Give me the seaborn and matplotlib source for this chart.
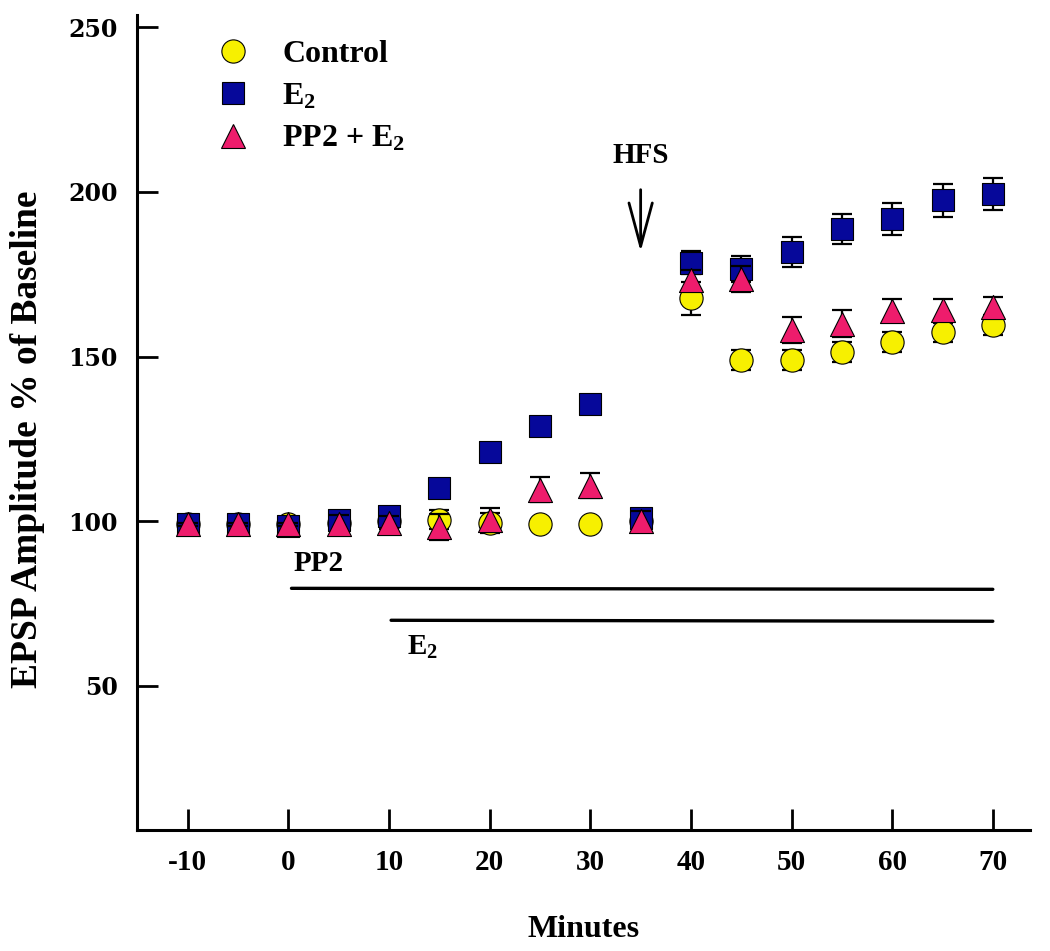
import numpy as np
import pandas as pd
import matplotlib
matplotlib.use("Agg")
import matplotlib.pyplot as plt
from matplotlib.lines import Line2D
import seaborn as sns

# Dados
minutos = [-10, -5, 0, 5, 10, 15, 20, 25, 30, 35, 40, 45, 50, 55, 60, 65, 70]
controle = [99, 99, 99, 99.5, 100, 100.5, 99.5, 99, 99, 100, 167.7, 149, 149, 151.3, 154.5, 157.3, 159.5]
controle_sem = [0.5, 0.5, 0.5, 0.5, 1.5, 3, 3, 0.5, 0.5, 0.5, 5, 3, 3, 3, 3, 3, 3]
e2 = [99, 99, 98.5, 100.5, 101.5, 110, 121, 129, 135.7, 101, 178.5, 176.5, 181.7, 188.7, 191.8, 197.4, 199.4]
e2_sem = [0.5, 0.5, 0.5, 1.5, 1.5, 0.5, 0.5, 0.5, 0.5, 1.5, 3.5, 4, 4.5, 4.6, 4.9, 5, 4.8]
pp2_e2 = [99, 99, 99, 99, 99.5, 98.2, 100.3, 109.5, 110.8, 100, 173.3, 173.5, 158, 160, 163.9, 164.2, 165]
pp2_e2_sem = [0.5, 0.5, 0.5, 3, 2, 4, 3.6, 3.8, 3.8, 3, 3, 4, 4, 4, 3.5, 3.4, 3]

grupos = ["Control", "E$_2$", "PP2 + E$_2$"]
cores = ["#F7F000", "#06089A", "#EE1C6C"]
marcadores = ["o", "s", "^"]
tamanhos = [280, 250, 300]

sns.set_style("ticks")
plt.rcParams["font.family"] = ["Liberation Serif", "DejaVu Serif"]
plt.rcParams["font.weight"] = "bold"
plt.rcParams["axes.unicode_minus"] = False
for k in ["text.color", "axes.labelcolor", "xtick.color", "ytick.color", "axes.edgecolor"]:
    plt.rcParams[k] = "black"
plt.rcParams["mathtext.fontset"] = "custom"
plt.rcParams["mathtext.rm"] = "Liberation Serif:bold"
plt.rcParams["mathtext.it"] = "Liberation Serif:bold"
plt.rcParams["mathtext.bf"] = "Liberation Serif:bold"

fig = plt.figure(figsize=(10.5, 9.51), dpi=100)
ax = fig.add_axes([0.1305, 0.1272, 0.8505, 0.857])

series = [(controle, controle_sem), (e2, e2_sem), (pp2_e2, pp2_e2_sem)]
for i, (nome, (vals, sem)) in enumerate(zip(grupos, series)):
    df = pd.DataFrame({"Minutes": minutos, "Amp": vals, "sem": sem})
    ax.errorbar(df["Minutes"], df["Amp"], yerr=df["sem"], fmt="none",
                ecolor="black", elinewidth=1.6, capsize=7, capthick=1.6,
                zorder=2 + 2 * i)
    sns.scatterplot(data=df, x="Minutes", y="Amp", ax=ax, color=cores[i],
                    marker=marcadores[i], s=tamanhos[i], edgecolor="black",
                    linewidth=0.8, zorder=3 + 2 * i, legend=False)

# Barras de tratamento
ax.plot([0.3, 70], [79.6, 79.3], color="black", lw=2.4)
ax.plot([10.2, 70], [69.9, 69.6], color="black", lw=2.4)
ax.text(0.5, 83, "PP2", fontsize=21, fontweight="bold", ha="left", va="bottom")
ax.text(11.8, 57.5, "E$_2$", fontsize=21, fontweight="bold", ha="left", va="bottom")

# HFS
ax.text(35, 207, "HFS", fontsize=21, fontweight="bold", ha="center", va="bottom")
ax.annotate("", xy=(35, 181.0), xytext=(35, 201.5),
            arrowprops=dict(arrowstyle="->,head_length=1.3,head_width=0.35",
                            lw=2, color="black", mutation_scale=24))

ax.set_xlim(-15.05, 73.7)
ax.set_ylim(6.2, 253.7)
ax.set_xticks(range(-10, 71, 10))
ax.set_yticks([50, 100, 150, 200, 250])
ax.set_yticklabels(["50", "100", "150", "200", "250"],
                   fontdict={"family": "DejaVu Serif", "weight": "bold", "size": 17})
ax.tick_params(axis="both", direction="in", length=15, width=2)
ax.tick_params(axis="x", pad=14, labelsize=21)
ax.tick_params(axis="y", pad=14)
for lab in ax.get_xticklabels():
    lab.set_fontweight("bold")

sns.despine(ax=ax)
for s in ["left", "bottom"]:
    ax.spines[s].set_linewidth(2.2)

ax.set_xlabel("Minutes", fontsize=23, fontweight="bold", labelpad=28)
ax.set_ylabel("EPSP Amplitude % of Baseline", fontsize=27, fontweight="bold")
ax.yaxis.set_label_coords(-0.103, 0.48)

handles = [Line2D([], [], linestyle="none", marker=m, markersize=np.sqrt(t),
                  markerfacecolor=c, markeredgecolor="black", markeredgewidth=0.8)
           for m, c, t in zip(marcadores, cores, tamanhos)]
leg = ax.legend(handles, grupos, loc="upper left", bbox_to_anchor=(0.057, 0.985),
                frameon=False, prop={"family": "Liberation Serif", "weight": "bold", "size": 23},
                labelspacing=0.4, handletextpad=0.55, borderaxespad=0)

fig.savefig("out.png", dpi=100)
